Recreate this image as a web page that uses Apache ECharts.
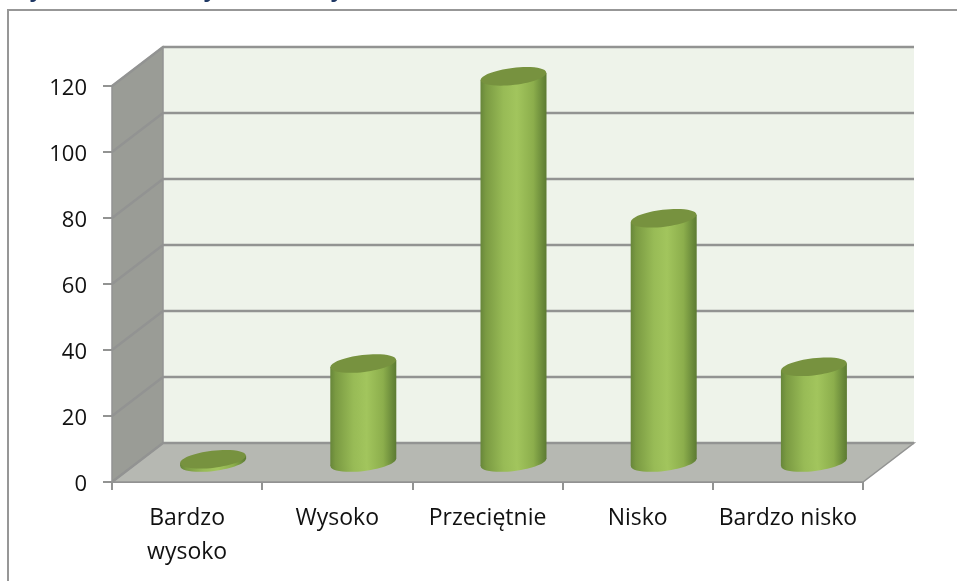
<!DOCTYPE html>
<html>
<head>
<meta charset="utf-8">
<style>
    html, body { margin: 0; padding: 0; background: #fff; overflow: hidden; }
    #chart { width: 957px; height: 581px; }
</style>
</head>
<body>
<div id="chart"></div>
<script src="https://cdn.jsdelivr.net/npm/echarts@6/dist/echarts.min.js"></script>
<script>
const categories = ['Bardzo\nwysoko', 'Wysoko', 'Przeciętnie', 'Nisko', 'Bardzo nisko']
const values = [1, 30, 117, 74, 29]
const yTicks = [0, 20, 40, 60, 80, 100, 120]

// depth of the fake 3d box, in pixels
const depthX = 51
const depthY = 39
const lineColor = '#929392'

const bodyFill = {
    type: 'linear', x: 0, y: 0, x2: 1, y2: 0,
    colorStops: [
        { offset: 0, color: '#67863a' },
        { offset: 0.08, color: '#7a9a42' },
        { offset: 0.35, color: '#98bb56' },
        { offset: 0.55, color: '#a2c55d' },
        { offset: 0.8, color: '#8cae4c' },
        { offset: 0.94, color: '#6a8a3a' },
        { offset: 1, color: '#5c7a32' }
    ]
}

function renderBox(params, api) {
    const sys = params.coordSys
    const tick = api.value(0)
    const y = api.coord([0, tick])[1]
    const left = sys.x
    const right = sys.x + sys.width
    const top = sys.y
    const bottom = sys.y + sys.height
    const children = []
    if (params.dataIndex === 0) {
        children.push({
            type: 'polygon',
            shape: { points: [[left + depthX, top - depthY], [right + depthX, top - depthY], [right + depthX, bottom - depthY], [left + depthX, bottom - depthY]] },
            style: { fill: '#eef3ea' }
        }, {
            type: 'polygon',
            shape: { points: [[left, top], [left + depthX, top - depthY], [left + depthX, bottom - depthY], [left, bottom]] },
            style: { fill: '#9a9c96', stroke: lineColor, lineWidth: 1.5 }
        }, {
            type: 'polygon',
            shape: { points: [[left, bottom], [left + depthX, bottom - depthY], [right + depthX, bottom - depthY], [right, bottom]] },
            style: { fill: '#b6b8b2', stroke: lineColor, lineWidth: 1.5 }
        })
    }
    children.push({
        type: 'polyline',
        shape: { points: [[left, y], [left + depthX, y - depthY], [right + depthX, y - depthY]] },
        style: { fill: null, stroke: lineColor, lineWidth: 2.4 }
    })
    return { type: 'group', children: children }
}

function renderCylinder(params, api) {
    const idx = api.value(0)
    const base = api.coord([idx, 0])
    const head = api.coord([idx, api.value(1)])
    const cx = base[0] + depthX / 2 + 0.5
    const by = base[1] - depthY / 2
    const ty = head[1] - depthY / 2
    const rx = 33
    const ry = 8.5
    const tilt = 0.12
    const ellipse = (y, fill) => ({
        type: 'ellipse',
        x: cx, y: y, rotation: tilt,
        shape: { cx: 0, cy: 0, rx: rx, ry: ry },
        style: { fill: fill }
    })
    return {
        type: 'group',
        children: [
            ellipse(by, bodyFill),
            {
                type: 'polygon',
                shape: { points: [[cx - rx, ty + 3.5], [cx + rx, ty - 3.5], [cx + rx, by - 3.5], [cx - rx, by + 3.5]] },
                style: { fill: bodyFill }
            },
            ellipse(ty, '#77923f')
        ]
    }
}

const chart = echarts.init(document.getElementById('chart'), null, { renderer: 'canvas' })
chart.setOption({
    animation: false,
    textStyle: { fontFamily: 'Open Sans' },
    grid: { left: 112, right: 94, top: 86, bottom: 99 },
    xAxis: {
        type: 'category',
        data: categories,
        axisLine: { lineStyle: { color: lineColor, width: 2 } },
        axisTick: { show: true, alignWithLabel: false, length: 8, lineStyle: { color: lineColor, width: 2 } },
        axisLabel: { color: '#111', fontFamily: 'Open Sans', fontSize: 23, margin: 19, lineHeight: 34, interval: 0 }
    },
    yAxis: {
        type: 'value',
        min: 0,
        max: 120,
        interval: 20,
        splitLine: { show: false },
        axisLine: { show: true, lineStyle: { color: lineColor, width: 1 } },
        axisTick: { show: true, length: 9, lineStyle: { color: lineColor, width: 2 } },
        // small line box hung from the tick drops the digits a little below it
        axisLabel: { color: '#111', fontFamily: 'Open Sans', fontSize: 22, margin: 25, verticalAlign: 'top', lineHeight: 6 }
    },
    // edge of the text box frame and the clipped heading above it
    graphic: [
        { type: 'polyline', z: 0, shape: { points: [[8, 581], [8, 10], [957, 10]] }, style: { fill: null, stroke: '#979797', lineWidth: 2 } },
        { type: 'text', x: 32, y: -20, style: { text: 'y', fontFamily: 'Open Sans', fontStyle: 'italic', fontSize: 22, fontWeight: 'bold', fill: '#1f3864' } },
        { type: 'text', x: 206, y: -20, style: { text: 'y', fontFamily: 'Open Sans', fontStyle: 'italic', fontSize: 22, fontWeight: 'bold', fill: '#1f3864' } },
        { type: 'text', x: 333, y: -20, style: { text: 'y', fontFamily: 'Open Sans', fontStyle: 'italic', fontSize: 22, fontWeight: 'bold', fill: '#1f3864' } }
    ],
    series: [
        {
            type: 'custom',
            renderItem: renderBox,
            encode: { y: 0 },
            data: yTicks.map(t => [t]),
            z: 1,
            silent: true
        },
        {
            type: 'custom',
            renderItem: renderCylinder,
            encode: { x: 0, y: 1 },
            data: values.map((v, i) => [i, v]),
            z: 2
        }
    ]
})
</script>
</body>
</html>
